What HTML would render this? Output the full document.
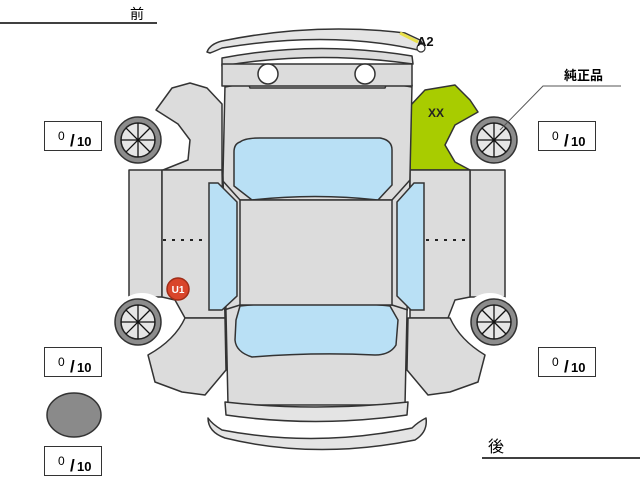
<!DOCTYPE html>
<html><head><meta charset="utf-8"><style>
html,body{margin:0;padding:0;background:#fff;}
svg{display:block;}
text{font-family:"Liberation Sans","Noto Sans CJK JP",sans-serif;}
</style></head><body>
<svg width="640" height="480" viewBox="0 0 640 480" xmlns="http://www.w3.org/2000/svg">
<defs>
<g id="wheel">
<circle r="23" fill="#8c8c8c" stroke="#333" stroke-width="1.5"/>
<circle r="17" fill="#e6e6e6" stroke="#222" stroke-width="1.5"/>
<g stroke="#111" stroke-width="1.3">
<line x1="-17" y1="0" x2="17" y2="0"/><line x1="0" y1="-17" x2="0" y2="17"/>
<line x1="-12" y1="-12" x2="12" y2="12"/><line x1="-12" y1="12" x2="12" y2="-12"/>
</g>
</g>
</defs>
<line x1="0" y1="23" x2="157" y2="23" stroke="#000" stroke-width="1.5"/>
<text x="130" y="19" font-size="14">前</text>
<line x1="482" y1="458" x2="640" y2="458" stroke="#000" stroke-width="1.5"/>
<text x="488" y="452" font-size="16">後</text>

<g stroke="#333" stroke-width="1.5" stroke-linejoin="round">
<path d="M156,110 L172,88 L190,83 L207,88 L222,104 L222,170 L163,170 L188,160 L190,140 L178,124 Z" fill="#dcdcdc"/>
<path d="M410,106 L425,90 L455,85 L470,100 L478,112 L455,125 L445,145 L455,162 L470,170 L410,170 Z" fill="#a8cc00"/>
<rect x="129" y="170" width="33" height="127" fill="#dcdcdc"/>
<path d="M162,170 L222,170 L225,318 L185,318 L175,300 L162,297 Z" fill="#dcdcdc"/>
<rect x="470" y="170" width="35" height="127" fill="#dcdcdc"/>
<path d="M410,170 L470,170 L470,297 L455,300 L448,318 L410,318 Z" fill="#dcdcdc"/>
<path d="M148,355 Q175,340 185,318 L225,318 L226,370 L205,395 L182,392 L155,382 Z" fill="#dcdcdc"/>
<path d="M485,355 Q460,340 450,318 L408,318 L407,370 L428,395 L450,392 L478,382 Z" fill="#dcdcdc"/>
</g>
<!-- white cutouts around wheels -->
<g fill="#fff">
<circle cx="142" cy="140" r="29"/>
<circle cx="490" cy="140" r="29"/>
<circle cx="142" cy="322" r="29"/>
<circle cx="490" cy="322" r="29"/>
</g>
<g stroke="#333" stroke-width="1.5" stroke-linejoin="round">
<path d="M225,85 L412,85 L410,175 L405,405 L228,405 L223,175 Z" fill="#dcdcdc"/>
<path d="M225,87 L248,83 L250,88 L385,88 L387,83 L412,87" fill="none"/>
<path d="M207,52 Q210,44 222,41 Q315,22 405,33 L420,40 Q425,46 418,50 Q330,30 222,48 Q213,52 210,53 Z" fill="#e4e4e4"/>
<path d="M222,58 Q315,40 412,56 L413,64 Q315,50 222,66 Z" fill="#dcdcdc"/>
<rect x="222" y="64" width="190" height="22" fill="#dcdcdc"/>
<path d="M225,402 Q315,412 408,402 L407,415 Q315,428 226,415 Z" fill="#e4e4e4"/>
<path d="M208,418 Q208,432 225,438 Q315,460 415,440 Q428,432 426,418 Q418,422 412,428 Q315,448 222,430 Q212,424 208,418 Z" fill="#e4e4e4"/>
<path d="M222,180 L240,200 L392,200 L410,180" fill="none"/>
<path d="M224,310 L240,305 L392,305 L408,310" fill="none"/>
</g>
<circle cx="268" cy="74" r="10" fill="#fff" stroke="#333" stroke-width="1.5"/>
<circle cx="365" cy="74" r="10" fill="#fff" stroke="#333" stroke-width="1.5"/>
<g stroke="#333" stroke-width="1.5" fill="#b9e0f5">
<path d="M240,142 Q245,138 260,138 L380,138 Q392,140 392,150 L392,185 L378,200 Q315,193 252,200 L234,186 L234,152 Q234,144 240,142 Z"/>
<path d="M240,306 Q315,298 390,306 L398,320 L396,345 Q390,355 375,355 Q315,352 252,357 Q236,352 235,340 L236,320 Z"/>
<path d="M209,183 L218,183 L237,202 L237,296 L222,310 L209,310 Z"/>
<path d="M424,183 L414,183 L397,202 L397,296 L411,310 L424,310 Z"/>
<rect x="240" y="200" width="152" height="105" fill="#dcdcdc"/>
</g>
<line x1="163" y1="240" x2="208" y2="240" stroke="#222" stroke-width="2" stroke-dasharray="3,6"/>
<line x1="426" y1="240" x2="468" y2="240" stroke="#222" stroke-width="2" stroke-dasharray="3,6"/>
<use href="#wheel" x="138" y="140"/>
<use href="#wheel" x="494" y="140"/>
<use href="#wheel" x="138" y="322"/>
<use href="#wheel" x="494" y="322"/>
<line x1="400" y1="33" x2="418" y2="42" stroke="#e8e04a" stroke-width="3"/>
<circle cx="421" cy="48" r="4" fill="#fff" stroke="#333" stroke-width="1.2"/>
<text x="417" y="46" font-size="13" font-weight="bold" fill="#111">A2</text>
<text x="428" y="117" font-size="12" font-weight="bold" fill="#222">XX</text>
<circle cx="178" cy="289" r="11" fill="#d9452b" stroke="#a02d18" stroke-width="1.5"/>
<text x="178" y="293" font-size="10" font-weight="bold" fill="#fff" text-anchor="middle">U1</text>
<polyline points="621,86 543,86 500,130" fill="none" stroke="#555" stroke-width="1"/>
<text x="564" y="80" font-size="13" font-weight="bold">純正品</text>
<g font-size="13">
<g transform="translate(44,121)"><rect x="0.5" y="0.5" width="57" height="29" fill="#fff" stroke="#333"/><text x="14" y="19" font-size="12">0</text><text x="26" y="25" font-size="17" font-weight="bold">/</text><text x="33" y="25" font-weight="bold">10</text></g>
<g transform="translate(538,121)"><rect x="0.5" y="0.5" width="57" height="29" fill="#fff" stroke="#333"/><text x="14" y="19" font-size="12">0</text><text x="26" y="25" font-size="17" font-weight="bold">/</text><text x="33" y="25" font-weight="bold">10</text></g>
<g transform="translate(44,347)"><rect x="0.5" y="0.5" width="57" height="29" fill="#fff" stroke="#333"/><text x="14" y="19" font-size="12">0</text><text x="26" y="25" font-size="17" font-weight="bold">/</text><text x="33" y="25" font-weight="bold">10</text></g>
<g transform="translate(538,347)"><rect x="0.5" y="0.5" width="57" height="29" fill="#fff" stroke="#333"/><text x="14" y="19" font-size="12">0</text><text x="26" y="25" font-size="17" font-weight="bold">/</text><text x="33" y="25" font-weight="bold">10</text></g>
<g transform="translate(44,446)"><rect x="0.5" y="0.5" width="57" height="29" fill="#fff" stroke="#333"/><text x="14" y="19" font-size="12">0</text><text x="26" y="25" font-size="17" font-weight="bold">/</text><text x="33" y="25" font-weight="bold">10</text></g>
</g>
<ellipse cx="74" cy="415" rx="27" ry="22" fill="#8a8a8a" stroke="#333" stroke-width="1.5"/>
</svg>
</body></html>
